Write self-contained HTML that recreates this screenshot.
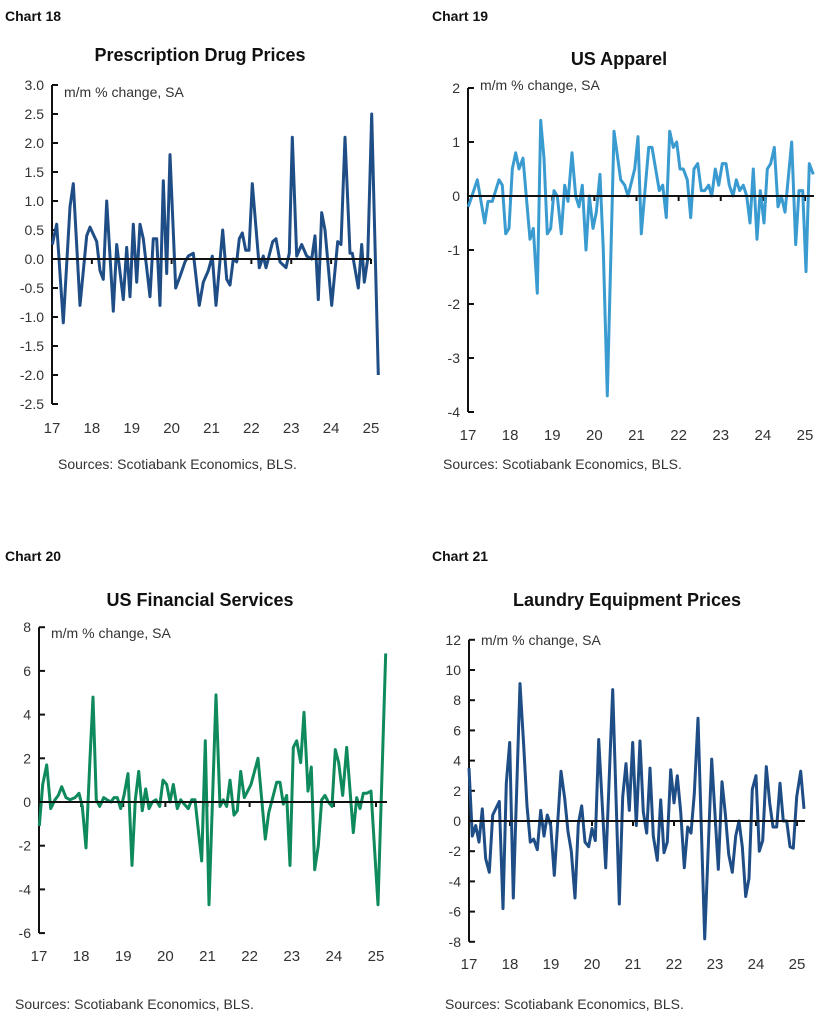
<!DOCTYPE html>
<html><head><meta charset="utf-8"><style>
body{margin:0;background:#fff;width:828px;height:1023px;overflow:hidden;font-family:"Liberation Sans",sans-serif}
svg{position:absolute;left:0;top:0}
</style></head><body>
<svg id="s" width="828" height="1023" xmlns="http://www.w3.org/2000/svg" font-family="Liberation Sans, sans-serif"></svg>
<script>
const S=document.getElementById('s');let h='';
function T(x,y,t,o){o=o||{};h+=`<text x="${x}" y="${y}" font-size="${o.fs||14}" fill="${o.c||'#333'}" ${o.b?'font-weight="bold"':''} text-anchor="${o.a||'start'}">${t}</text>`;}
function chart(c){
 // c: ax, zeroY, pxPerUnit, yTicks[], fmt, x17, x25, labY, data, zx0, zx1, zoff, col, top, bot
 const yv=v=>c.zeroY-v*c.k;
 h+=`<line x1="${c.ax}" y1="${yv(c.yt[0])}" x2="${c.ax}" y2="${yv(c.yt[c.yt.length-1])}" stroke="#111" stroke-width="2"/>`;
 c.yt.forEach(v=>{const y=yv(v);h+=`<line x1="${c.ax}" y1="${y}" x2="${c.ax+6}" y2="${y}" stroke="#111" stroke-width="2"/>`;T(c.ax-8,y+5,c.f(v),{a:'end',fs:14});});
 const yr=(c.x25-c.x17)/8;
 for(let i=0;i<=8;i++){const x=c.x17+i*yr;h+=`<line x1="${x}" y1="${c.zeroY}" x2="${x}" y2="${c.zeroY+5}" stroke="#111" stroke-width="2"/>`;T(x,c.lab,String(17+i),{a:'middle',fs:15});}
 const pts=[];for(let i=0;i<c.d.length;i+=2){pts.push(((c.xo+c.d[i]/3)).toFixed(1)+','+yv(c.d[i+1]).toFixed(1));}
 h+=`<polyline points="${pts.join(' ')}" fill="none" stroke="${c.col}" stroke-width="3" stroke-linejoin="round"/>`;
 h+=`<line x1="${c.ax}" y1="${c.zeroY}" x2="${c.zend}" y2="${c.zeroY}" stroke="#111" stroke-width="2"/>`;
 T(c.ax+12,c.unitY,'m/m % change, SA',{fs:14});
}
const d18=[157,.25,170,.6,190,-1.1,210,.9,220,1.3,240,-.8,260,.4,270,.55,290,.3,300,-.2,310,-.35,320,1.0,340,-.9,350,.25,370,-.7,380,.2,390,-.65,400,.6,410,-.4,420,.6,430,.35,450,-.65,460,.35,470,.35,480,-.8,490,1.35,500,-.25,510,1.8,527,-.5,540,-.3,555,-.05,565,.05,580,.1,598,-.8,610,-.4,625,-.2,637,.05,648,-.8,668,.5,680,-.35,690,-.45,700,0,710,-.05,718,.35,727,.45,737,.15,747,.15,757,1.3,778,-.15,790,.05,798,-.15,818,.3,828,.35,840,-.05,858,-.15,868,.1,877,2.1,890,.05,905,.25,920,.05,935,0,945,.4,955,-.7,965,.8,975,.5,995,-.8,1013,.3,1023,.25,1035,2.1,1050,.1,1057,.1,1075,-.5,1085,.25,1093,-.4,1103,0,1115,2.5,1135,-2.0];
const d19=[163,-.2,190,.3,212,-.5,222,-.1,235,-.1,255,.3,265,.2,275,-.7,285,-.6,295,.5,305,.8,315,.5,327,.7,348,-.8,358,-.6,370,-1.8,380,1.4,390,.7,400,-.7,410,-.6,420,.1,430,0,442,-.7,452,.2,462,-.1,474,.8,485,0,495,-.2,505,.2,516,-1,526,0,537,-.6,547,-.3,558,.4,568,-1,580,-3.7,600,1.2,620,.3,632,.2,642,0,662,.5,672,1.1,682,-.7,704,.9,714,.9,736,.1,746,.2,757,-.4,767,1.2,778,.9,788,1,798,.5,808,.5,820,.3,830,-.4,840,.5,851,.6,862,.1,872,.1,884,.2,893,0,904,.5,914,.2,925,.6,936,.6,946,.2,957,0,967,.3,977,.1,988,.2,998,0,1008,-.5,1018,.5,1029,-.8,1039,.1,1050,-.5,1060,.5,1070,.6,1081,.9,1092,-.2,1102,0,1113,-.3,1133,1,1145,-.9,1155,.1,1166,.1,1176,-1.4,1186,.6,1198,.4];
const d20=[118,-1.1,128,.8,140,1.7,152,-.3,165,.1,175,.3,185,.7,198,.2,210,.1,225,.2,237,.4,247,-.2,258,-2.1,270,2,279,4.8,289,.1,299,-.2,311,.2,321,.1,333,0,342,.2,352,.2,362,-.3,372,.3,384,1.3,396,-2.9,406,.1,416,1.4,427,-.4,437,.6,447,-.3,457,0,468,.1,479,-.2,489,1,500,.8,510,0,520,.8,532,-.3,542,.1,553,-.1,565,-.3,575,.1,585,.1,605,-2.7,616,2.8,627,-4.7,648,4.9,660,-.2,670,.1,680,-.2,690,1,702,-.6,712,-.4,722,1.4,733,.2,743,.5,753,.8,774,2,796,-1.7,806,-.5,820,.3,830,.9,840,.9,850,-.1,860,.3,870,-2.9,880,2.5,890,2.8,902,1.8,912,4.1,924,.5,934,1.6,944,-3.1,955,-2,965,.1,975,.3,985,0,996,-.2,1006,2.4,1016,1.8,1028,.3,1040,2.5,1060,-1.4,1070,.2,1080,-.3,1090,.4,1100,.4,1113,.5,1134,-4.7,1157,6.8];
const d21=[165,3.5,175,-1,185,-.3,195,-1.4,205,.8,215,-2.5,226,-3.4,236,.4,245,.8,256,1.3,267,-5.8,277,2.5,287,5.2,298,-5.1,318,9.1,329,5,339,1,349,-1.4,359,-1.2,370,-1.9,380,.7,390,-1,400,.4,410,-.3,421,-3.6,441,3.3,452,1.5,462,-.7,472,-2,483,-5.1,493,-.2,503,1,513,-1.4,524,-1.7,534,-.5,544,-1.3,554,5.4,575,-3.1,596,8.7,616,-5.5,626,1.6,636,3.8,646,.7,656,5.2,667,-.3,678,5.3,688,.6,698,-.8,708,3.5,718,-1,730,-2.6,740,1.4,750,-2.1,760,-1.4,770,3.4,780,1.2,790,3,800,.6,811,-3.1,821,-.4,831,-.8,841,1.8,852,6.8,872,-7.8,893,4.1,913,-3.2,924,2.6,934,.5,944,-2.2,955,-3.4,965,-1,975,0,985,-1.7,995,-5,1005,-3.8,1015,2.1,1026,3,1036,-2,1046,-1.3,1057,3.6,1067,1.2,1077,-.4,1088,-.4,1098,2.5,1108,0,1118,0,1128,-1.7,1138,-1.8,1148,1.6,1160,3.3,1170,.8];
const rng=(a,b,s)=>{const r=[];for(let v=a;v>=b-1e-9;v-=s)r.push(+v.toFixed(2));return r;};
chart({ax:52,zeroY:259,k:58,yt:rng(3,-2.5,.5),f:v=>v.toFixed(1),x17:52,x25:371,lab:433,d:d18,xo:0,col:'#1f4e87',zend:371,unitY:97});
chart({ax:468,zeroY:196,k:54,yt:rng(2,-4,1),f:v=>String(v),x17:468,x25:805,lab:440,d:d19,xo:414,col:'#3a9bd0',zend:814,unitY:90});
chart({ax:39,zeroY:802,k:21.85,yt:rng(8,-6,2),f:v=>String(v),x17:39,x25:376,lab:961,d:d20,xo:0,col:'#0e8a5c',zend:387,unitY:638});
chart({ax:469,zeroY:821,k:15.1,yt:rng(12,-8,2),f:v=>String(v),x17:469,x25:797,lab:969,d:d21,xo:414,col:'#1f4e87',zend:805,unitY:645});
T(5,21,'Chart 18',{b:1,c:'#111',fs:14});T(432,21,'Chart 19',{b:1,c:'#111',fs:14});
T(5,561,'Chart 20',{b:1,c:'#111',fs:14});T(432,561,'Chart 21',{b:1,c:'#111',fs:14});
T(200,61,'Prescription Drug Prices',{b:1,c:'#111',fs:18,a:'middle'});
T(619,65,'US Apparel',{b:1,c:'#111',fs:18,a:'middle'});
T(200,606,'US Financial Services',{b:1,c:'#111',fs:18,a:'middle'});
T(627,606,'Laundry Equipment Prices',{b:1,c:'#111',fs:18,a:'middle'});
T(58,469,'Sources: Scotiabank Economics, BLS.',{fs:14});
T(443,469,'Sources: Scotiabank Economics, BLS.',{fs:14});
T(15,1009,'Sources: Scotiabank Economics, BLS.',{fs:14});
T(445,1009,'Sources: Scotiabank Economics, BLS.',{fs:14});
S.innerHTML=h;
</script>
</body></html>
